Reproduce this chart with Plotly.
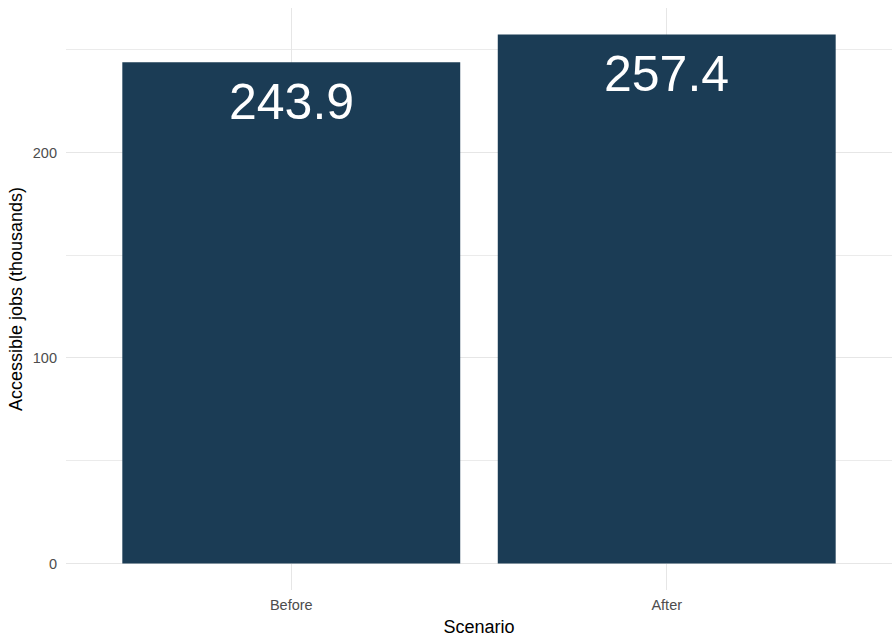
import plotly.graph_objects as go

scenarios = ["Before", "After"]
jobs_thousands = [243.9, 257.4]
label_text = ["243.9", "257.4"]
y_ticks = [0, 100, 200]

bar_color = "#1B3C55"
font_family = "Liberation Sans, Arial, sans-serif"

fig = go.Figure()
fig.add_trace(go.Bar(
    x=scenarios, y=jobs_thousands, width=0.9,
    marker=dict(color=bar_color, line=dict(width=0)),
    hoverinfo="skip",
))

for s, v, t in zip(scenarios, jobs_thousands, label_text):
    fig.add_annotation(x=s, y=v, text=t, showarrow=False, yanchor="top",
                       yshift=-10, font=dict(size=50, color="white", family=font_family))

ymax = max(jobs_thousands)
fig.update_layout(
    width=892, height=637,
    margin=dict(l=66, r=0, t=8, b=47, autoexpand=False),
    plot_bgcolor="white", paper_bgcolor="white",
    font=dict(family=font_family, color="#4D4D4D"),
    showlegend=False,
    bargap=0.1,
    xaxis=dict(
        range=[-0.6, 1.6], showgrid=True, gridcolor="#E6E6E6", gridwidth=1.3,
        zeroline=False, showline=False, ticks="", automargin=False,
        tickfont=dict(size=14.5, color="#4D4D4D"), ticklabelstandoff=4,
        title=dict(text="Scenario", font=dict(size=18, color="black"), standoff=8),
    ),
    yaxis=dict(
        range=[-0.05 * ymax, 1.05 * ymax], automargin=False,
        tickvals=y_ticks, showgrid=True, gridcolor="#E6E6E6", gridwidth=1.3,
        minor=dict(dtick=50, tick0=0, showgrid=True, gridcolor="#EBEBEB", gridwidth=1),
        zeroline=False, showline=False, ticks="",
        tickfont=dict(size=14.5, color="#4D4D4D"), ticklabelstandoff=8,
        title=dict(text="Accessible jobs (thousands)", font=dict(size=18, color="black"), standoff=5),
    ),
)

fig.write_html("out.html")
